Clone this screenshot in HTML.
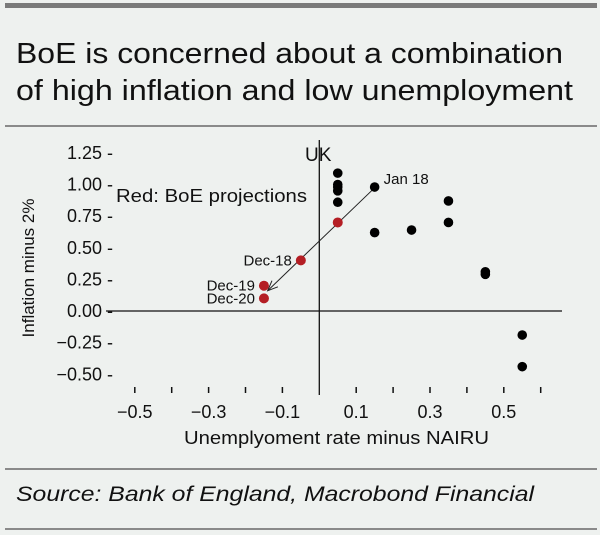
<!DOCTYPE html>
<html><head><meta charset="utf-8"><style>
html,body{margin:0;padding:0;background:#eef1ef;}
body{width:600px;height:535px;position:relative;overflow:hidden;font-family:"Liberation Sans",sans-serif;}
</style></head><body>
<svg width="600" height="535" style="position:absolute;left:0;top:0">
<rect x="5" y="3" width="592" height="5" fill="#7a7a7a"/>
<text x="16" y="63" font-size="29" fill="#111" textLength="547" lengthAdjust="spacingAndGlyphs" font-family="Liberation Sans, sans-serif">BoE is concerned about a combination</text>
<text x="16" y="100" font-size="29" fill="#111" textLength="557" lengthAdjust="spacingAndGlyphs" font-family="Liberation Sans, sans-serif">of high inflation and low unemployment</text>
<rect x="5" y="125" width="592" height="2" fill="#8a8a8a"/>
<rect x="5" y="468" width="592" height="2" fill="#8a8a8a"/>
<text x="16" y="501" font-size="21" font-style="italic" fill="#111" textLength="518" lengthAdjust="spacingAndGlyphs">Source: Bank of England, Macrobond Financial</text>
<rect x="5" y="528" width="592" height="2" fill="#8a8a8a"/>
<g id="plot"></g>
</svg>
<script>
const blackX=[0.05,0.05,0.05,0.05,0.05,0.15,0.15,0.25,0.35,0.35,0.45,0.45,0.55,0.55];
const blackY=[1.09,1.00,0.98,0.95,0.86,0.98,0.62,0.64,0.87,0.70,0.31,0.29,-0.19,-0.44];
const redX=[0.05,-0.05,-0.15,-0.15];
const redY=[0.70,0.40,0.20,0.10];
const redLabels=["","Dec-18","Dec-19","Dec-20"];
const yTicks=[1.25,1.00,0.75,0.50,0.25,0.00,-0.25,-0.50];
const yTickLabels=["1.25","1.00","0.75","0.50","0.25","0.00","\u22120.25","\u22120.50"];
const xTicks=[-0.5,-0.4,-0.3,-0.2,-0.1,0.1,0.2,0.3,0.4,0.5,0.6];
const xTickLabelVals=[-0.5,-0.3,-0.1,0.1,0.3,0.5];
const xTickLabels=["\u22120.5","\u22120.3","\u22120.1","0.1","0.3","0.5"];
const arrowFrom=[0.145,0.96];
const arrowTo=[-0.14,0.16];

const NS="http://www.w3.org/2000/svg";
const g=document.getElementById('plot');
const sx=v=>319.3+v*369;
const sy=v=>311-v*126.5;
function mk(t,a,txt){const e=document.createElementNS(NS,t);for(const k in a)e.setAttribute(k,a[k]);if(txt!==undefined)e.textContent=txt;g.appendChild(e);return e;}
let e;
e=mk('line',{x1:106,x2:562,y1:sy(0),y2:sy(0),stroke:'#111','stroke-width':1.3});


e=mk('line',{x1:sx(0),x2:sx(0),y1:140,y2:395,stroke:'#111','stroke-width':1.3});


e=mk('text',{x:305,y:161,'font-size':19,fill:'#111'},'UK');


yTicks.forEach((v,i)=>{
  e=mk('text',{x:113,y:sy(v)+6,'font-size':18,fill:'#111','text-anchor':'end'},yTickLabels[i]+" -");
  
  
});
xTicks.forEach(v=>{
  e=mk('line',{x1:sx(v),x2:sx(v),y1:387,y2:393,stroke:'#111','stroke-width':1.5});
  
  
});
xTickLabelVals.forEach((v,i)=>{
  e=mk('text',{x:sx(v),y:418,'font-size':18,fill:'#111','text-anchor':'middle'},xTickLabels[i]);
  
  
});
e=mk('text',{x:184,y:444,'font-size':18,fill:'#111',textLength:305,lengthAdjust:'spacingAndGlyphs'},'Unemplyoment rate minus NAIRU');


e=mk('text',{x:0,y:0,'font-size':17,fill:'#111','text-anchor':'middle',transform:'translate(34,268) rotate(-90)'},'Inflation minus 2%');


e=mk('text',{x:116,y:202,'font-size':18,fill:'#111',textLength:191,lengthAdjust:'spacingAndGlyphs'},'Red: BoE projections');


const ax1=sx(arrowFrom[0]),ay1=sy(arrowFrom[1]),ax2=sx(arrowTo[0]),ay2=sy(arrowTo[1]);
e=mk('line',{x1:ax1,y1:ay1,x2:ax2,y2:ay2,stroke:'#222','stroke-width':1});


const ang=Math.atan2(ay2-ay1,ax2-ax1);
const hl=11;
e=mk('polyline',{points:`${ax2-hl*Math.cos(ang-0.4)},${ay2-hl*Math.sin(ang-0.4)} ${ax2},${ay2} ${ax2-hl*Math.cos(ang+0.4)},${ay2-hl*Math.sin(ang+0.4)}`,fill:'none',stroke:'#222','stroke-width':1});


blackX.forEach((v,i)=>{
  e=mk('circle',{cx:sx(v),cy:sy(blackY[i]),r:4.8,fill:'#000'});
  
  
});
e=mk('text',{x:sx(blackX[5])+9,y:sy(blackY[5])-3,'font-size':15,fill:'#111'},'Jan 18');


redX.forEach((v,i)=>{
  e=mk('circle',{cx:sx(v),cy:sy(redY[i]),r:5,fill:'#b41e24'});
  
  
  if(redLabels[i]){
    e=mk('text',{x:sx(v)-9,y:sy(redY[i])+5,'font-size':15,fill:'#111','text-anchor':'end'},redLabels[i]);
    
    
  }
});
</script>
</body></html>
